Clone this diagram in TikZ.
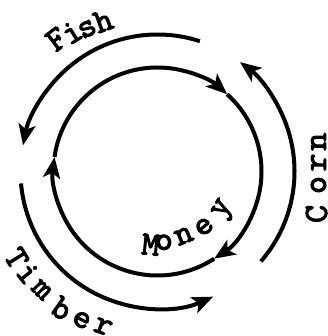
\documentclass[tikz,border=0pt]{standalone}
\usepackage{fontspec}
\newfontfamily\typefont{lmmono10-regular}[Extension=.otf, FakeBold=3]
\usetikzlibrary{arrows.meta}

\begin{document}
\begin{tikzpicture}[x=1pt,y=1pt,
    flow/.style={line width=4pt, -{Stealth[length=21pt,width=17pt,inset=5pt]}},
    letter/.style={font=\typefont\fontsize{34}{34}\selectfont, inner sep=0pt}]
  \useasboundingbox (-157.5,-164.5) rectangle (169.5,171.5);
  \coordinate (c) at (0,0);

  % goods, round the outside
  \draw[flow] ([shift={(72:137)}]c) arc[start angle=72, end angle=169, radius=137];
  \draw[flow] ([shift={(-41:137)}]c) arc[start angle=-41, end angle=53, radius=137];
  \draw[flow] ([shift={(185:137)}]c) arc[start angle=185, end angle=294, radius=137];

  % money, the inner circle
  \draw[flow] ([shift={(172:104)}]c) arc[start angle=172, end angle=48, radius=104];
  \draw[flow] ([shift={(48:104)}]c) arc[start angle=48, end angle=-57, radius=104];
  \draw[flow] ([shift={(-57:104)}]c) arc[start angle=-57, end angle=-188, radius=104];

  % labels, letter by letter
  \foreach \ch/\a/\r [count=\i] in {F/127.3/166.5, i/121.6/163.5, s/116.2/158.9, h/109.8/160.2}
    \node[letter, rotate=\a-90] (fish-\i) at (\a:\r) {\ch};
  \foreach \ch/\a/\r [count=\i] in {T/211.6/165.4, i/218.2/164.5, m/225.7/165.7, b/235.0/167, e/242.9/166.7, r/250.7/164.4}
    \node[letter, rotate=\a+90] (timber-\i) at (\a:\r) {\ch};
  \foreach \ch/\a/\r [count=\i] in {M/264.7/73.5, o/275.2/71.1, n/292.4/69.5, e/310.1/72.2, y/330.1/76.8}
    \node[letter, rotate=\a+90] (money-\i) at (\a:\r) {\ch};
  \foreach \ch/\x/\y [count=\i] in {C/159/-42.5, o/161/-13.5, r/161/9, n/161/29.8}
    \node[letter, rotate=90] (corn-\i) at (\x,\y) {\ch};
\end{tikzpicture}
\end{document}
